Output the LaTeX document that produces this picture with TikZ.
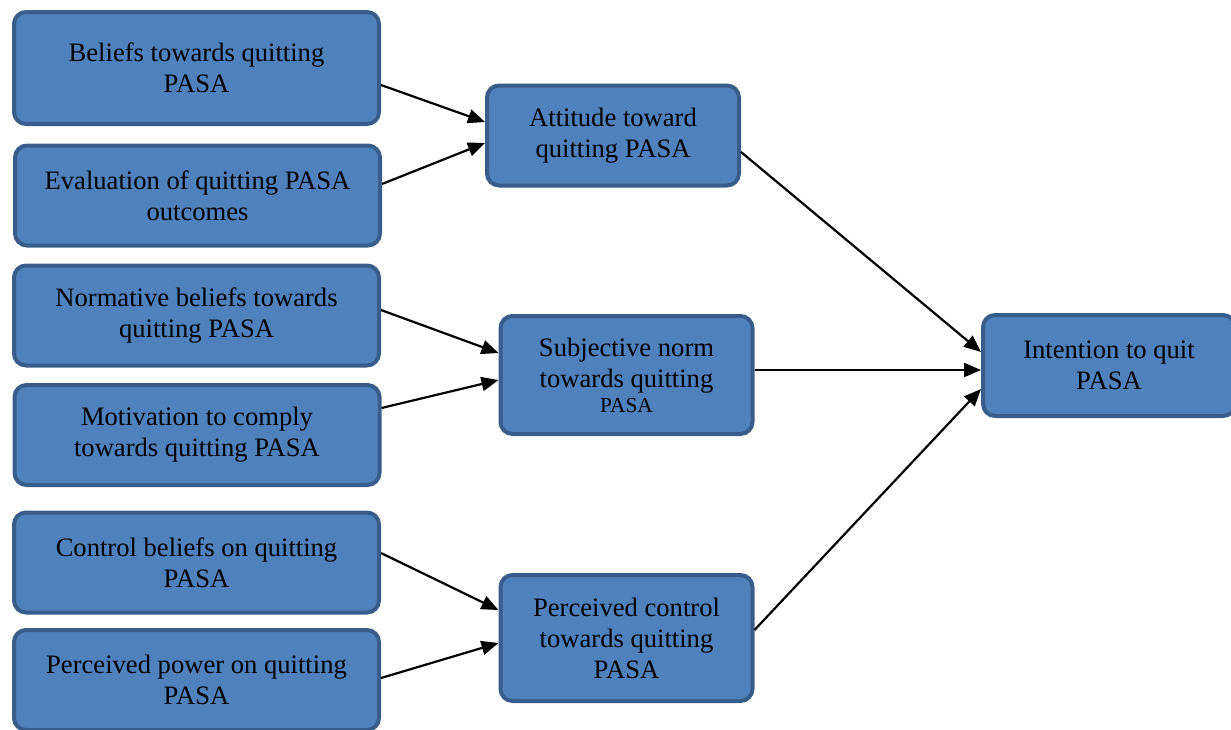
\documentclass[tikz,border=0pt]{standalone}
\usepackage{fontspec}
\setmainfont{Liberation Serif}
\usetikzlibrary{arrows.meta,positioning}
\definecolor{boxfill}{HTML}{4F81BD}
\definecolor{boxline}{HTML}{385D8A}
\newcommand{\smallpasa}{{\fontsize{10.7}{12}\selectfont PASA}}

\begin{document}
\begin{tikzpicture}[x=0.5pt,y=-0.5pt,
    factor/.style={rectangle,rounded corners=6pt,draw=boxline,line width=2pt,fill=boxfill,
      align=center,inner sep=2pt,minimum width=182.5pt,minimum height=50pt,
      font=\fontsize{13.3}{15.5}\selectfont},
    construct/.style={factor,minimum width=126pt},
    flow/.style={-{Triangle[length=8.5pt,width=7pt]},line width=1.1pt}]

  \useasboundingbox (0,0) rectangle (1231,729);

  % belief boxes
  \node[factor,minimum height=56pt] (belief) at (196.5,68) {Beliefs towards quitting\\PASA};
  \node[factor] (evaluation) at (197.5,195.5) {Evaluation of quitting PASA\\outcomes};
  \node[factor] (normative) at (196.5,315.5) {Normative beliefs towards\\quitting PASA};
  \node[factor] (motivation) at (197,435) {Motivation to comply\\towards quitting PASA};
  \node[factor] (control) at (196.5,562.5) {Control beliefs on quitting\\PASA};
  \node[factor] (power) at (196.5,680) {Perceived power on quitting\\PASA};

  % constructs
  \node[construct] (attitude) at (613,135.5) {Attitude toward\\quitting PASA};
  \node[construct,minimum height=59pt] (norm) at (626.5,375) {Subjective norm\\towards quitting\\[-3pt]\smallpasa};
  \node[construct,minimum height=63pt] (pbc) at (626.5,638) {Perceived control\\towards quitting\\PASA};
  \node[construct,minimum height=50.5pt] (intention) at (1109,365.5) {Intention to quit\\PASA};

  \draw[flow] ([yshift=-8.5pt]belief.east) -- ([yshift=6.75pt]attitude.west);
  \draw[flow] ([yshift=5.75pt]evaluation.east) -- ([yshift=-3.75pt]attitude.west);
  \draw[flow] ([yshift=2.75pt]normative.east) -- ([yshift=11pt]norm.west);
  \draw[flow] ([yshift=13.5pt]motivation.east) -- ([yshift=-2.5pt]norm.west);
  \draw[flow] ([yshift=4.75pt]control.east) -- ([yshift=14pt]pbc.west);
  \draw[flow] ([yshift=1pt]power.east) -- ([yshift=-2.5pt]pbc.west);

  \draw[flow] ([yshift=-8.25pt]attitude.east) -- ([yshift=6.75pt]intention.west);
  \draw[flow] ([yshift=2.5pt]norm.east) -- ([yshift=-2.25pt]intention.west);
  \draw[flow] ([yshift=4pt]pbc.east) -- ([yshift=-11.75pt]intention.west);
\end{tikzpicture}
\end{document}
